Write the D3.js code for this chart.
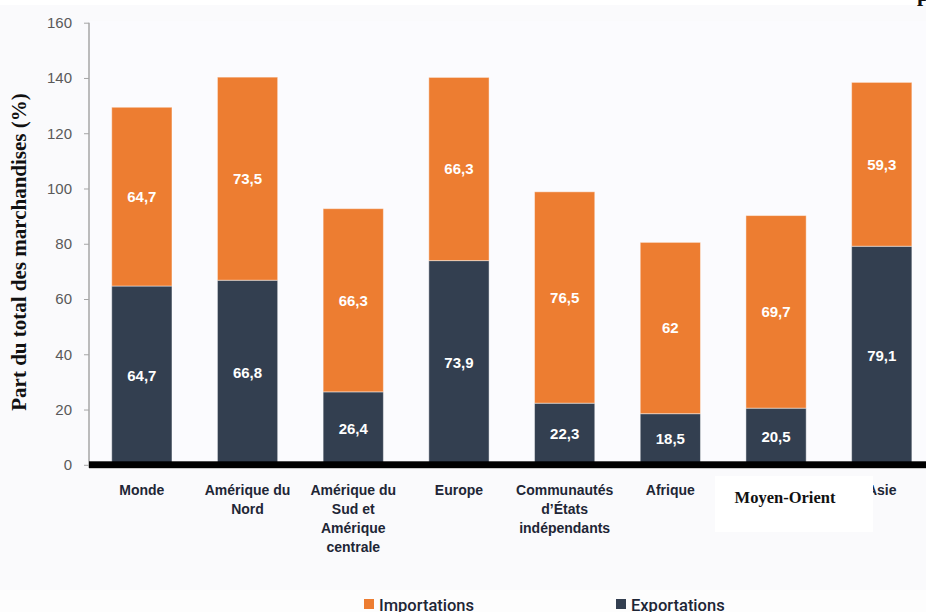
<!DOCTYPE html>
<html lang="fr">
<head>
<meta charset="utf-8">
<script src="https://cdn.jsdelivr.net/npm/d3@7"></script>
<style>
  html, body { margin: 0; padding: 0; background: #fafafc; }
  svg { display: block; }
</style>
</head>
<body>
<svg id="chart" width="926" height="612"></svg>
<script>
// Part des exportations et importations dans le total des marchandises, par région (%)
const categories = [
  "Monde", "Amérique du Nord", "Amérique du Sud et Amérique centrale", "Europe",
  "Communautés d’États indépendants", "Afrique", "Moyen-Orient", "Asie"
];
const categoryLines = [
  ["Monde"], ["Amérique du", "Nord"], ["Amérique du", "Sud et", "Amérique", "centrale"],
  ["Europe"], ["Communautés", "d’États", "indépendants"], ["Afrique"], ["Moyen-Orient"], ["Asie"]
];
const exportations = [64.7, 66.8, 26.4, 73.9, 22.3, 18.5, 20.5, 79.1];
const importations = [64.7, 73.5, 66.3, 66.3, 76.5, 62, 69.7, 59.3];
const yTicks = [0, 20, 40, 60, 80, 100, 120, 140, 160];
const seriesNames = ["Importations", "Exportations"];

const colors = { Importations: "#ED7D31", Exportations: "#333F50" };

const svg = d3.select("#chart");
const W = 926, H = 612;

// top white strip
svg.append("rect").attr("x", 0).attr("y", 0).attr("width", W).attr("height", 5).attr("fill", "#ffffff");
// plot background
svg.append("rect").attr("x", 89).attr("y", 21).attr("width", W - 89).attr("height", 444).attr("fill", "#fbfbfe");

const x = d3.scaleBand().domain(categories).range([89, 934.6]).padding(0);
const y = d3.scaleLinear().domain([0, 160]).range([464.8, 22.7]);
const barW = x.bandwidth() * 0.57;
const cx = c => x(c) + x.bandwidth() / 2;

const rows = categories.map((c, i) => ({ cat: c, Exportations: exportations[i], Importations: importations[i] }));
const stacked = d3.stack().keys(["Exportations", "Importations"])(rows);

const fmt = v => String(v).replace(".", ",");

// bars
const layers = svg.append("g").selectAll("g").data(stacked).join("g")
  .attr("fill", d => colors[d.key]);
layers.selectAll("rect").data(d => d).join("rect")
  .attr("x", d => cx(d.data.cat) - barW / 2)
  .attr("y", d => y(d[1]))
  .attr("width", barW)
  .attr("height", d => y(d[0]) - y(d[1]))
  .attr("stroke", "#ffffff").attr("stroke-opacity", 0.45).attr("stroke-width", 1);

// value labels
layers.selectAll("text").data(d => d.map(p => ({ p, key: d.key }))).join("text")
  .attr("x", d => cx(d.p.data.cat))
  .attr("y", d => y((d.p[0] + d.p[1]) / 2))
  .attr("dy", "0.35em")
  .attr("text-anchor", "middle")
  .attr("fill", "#ffffff")
  .attr("font-family", "Liberation Sans, Arial, sans-serif")
  .attr("font-weight", "bold")
  .attr("font-size", 15)
  .text(d => fmt(d.p.data[d.key]));

// y axis
const yAxis = svg.append("g").attr("transform", "translate(89,0)")
  .call(d3.axisLeft(y).tickValues(yTicks).tickSize(5).tickPadding(12).tickFormat(d3.format("d")));
yAxis.select(".domain").attr("stroke", "#a6a6a6").attr("stroke-width", 1.5)
  .attr("d", `M0,${y(160)}V${y(0) + 3}`);
yAxis.selectAll(".tick line").attr("stroke", "#a6a6a6");
yAxis.selectAll(".tick text")
  .attr("fill", "#595959")
  .attr("font-family", "Liberation Sans, Arial, sans-serif")
  .attr("font-size", 15);

// thick baseline
svg.append("rect").attr("x", 89).attr("y", 461.3).attr("width", W - 89).attr("height", 6.7).attr("fill", "#000000");
svg.append("line").attr("x1", 89).attr("x2", W).attr("y1", 468.5).attr("y2", 468.5)
  .attr("stroke", "#c8c8c8").attr("stroke-width", 1);

// category labels (the Moyen-Orient slot carries its own boxed label below)
const catG = svg.append("g")
  .attr("font-family", "Liberation Sans, Arial, sans-serif")
  .attr("font-weight", "bold")
  .attr("font-size", 14)
  .attr("fill", "#1e2636")
  .attr("text-anchor", "middle");
categories.forEach((c, i) => {
  if (c === "Moyen-Orient") return;
  const t = catG.append("text");
  categoryLines[i].forEach((line, j) => {
    t.append("tspan").attr("x", cx(c)).attr("y", 490 + j * 19).attr("dy", "0.35em").text(line);
  });
});

// boxed Moyen-Orient label
svg.append("rect").attr("x", 715).attr("y", 476).attr("width", 158).attr("height", 56).attr("fill", "#ffffff");
svg.append("text")
  .attr("x", 785).attr("y", 502.5)
  .attr("text-anchor", "middle")
  .attr("font-family", "Liberation Serif, Times New Roman, serif")
  .attr("font-weight", "bold")
  .attr("font-size", 16.5)
  .attr("fill", "#111111")
  .text(categories[6]);

// y axis title
svg.append("text")
  .attr("transform", "translate(26,252) rotate(-90)")
  .attr("text-anchor", "middle")
  .attr("font-family", "Liberation Serif, Times New Roman, serif")
  .attr("font-weight", "bold")
  .attr("font-size", 21)
  .attr("fill", "#111111")
  .text("Part du total des marchandises (%)");

// clipped heading glyph at top right
svg.append("text")
  .attr("x", 917).attr("y", 0.5)
  .attr("font-family", "Liberation Serif, Times New Roman, serif")
  .attr("font-weight", "bold")
  .attr("font-size", 22)
  .attr("fill", "#111111")
  .text("p");

// legend
svg.append("rect").attr("x", 0).attr("y", 590).attr("width", W).attr("height", 22).attr("fill", "#fdfdfd");
const legendX = [364, 616];
seriesNames.forEach((s, i) => {
  svg.append("rect").attr("x", legendX[i]).attr("y", 599).attr("width", 10).attr("height", 10).attr("fill", colors[s]);
  svg.append("text")
    .attr("x", legendX[i] + 15).attr("y", 610.5)
    .attr("font-family", "Roboto, Liberation Sans, Arial, sans-serif")
    .attr("font-weight", 500)
    .attr("font-size", 16.5)
    .attr("fill", "#1e2636")
    .text(s);
});
</script>
</body>
</html>
